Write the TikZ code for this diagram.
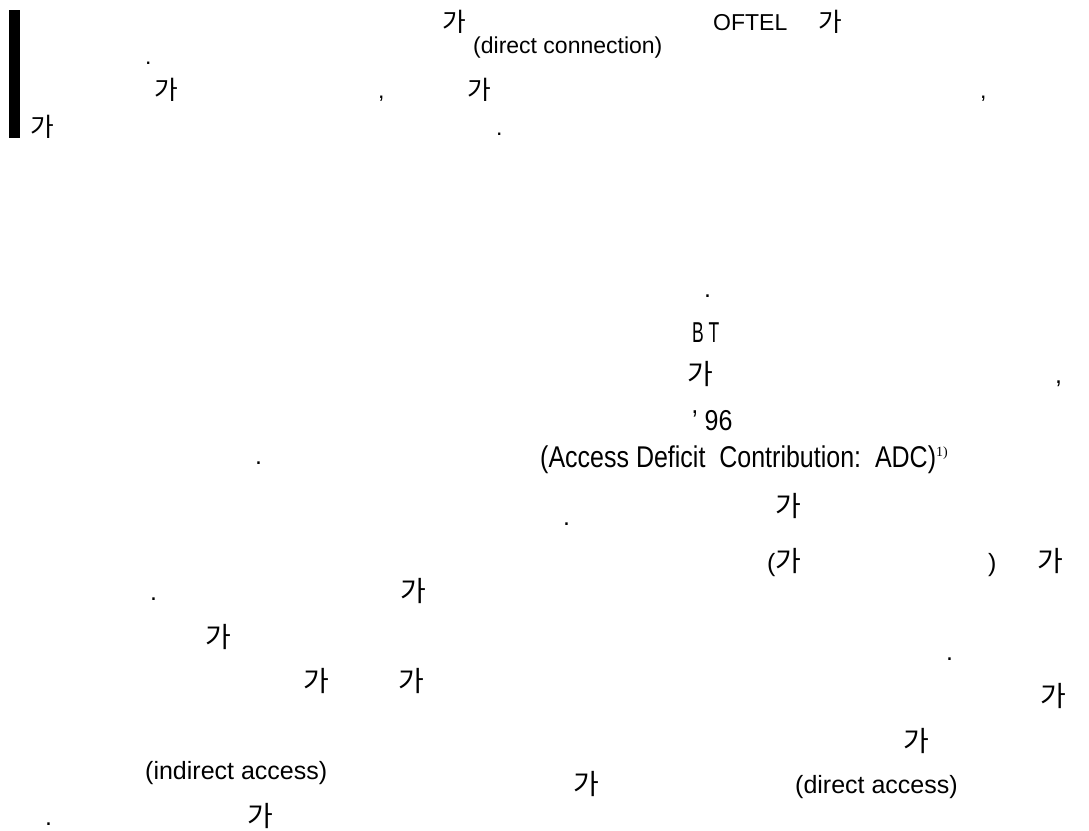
\documentclass[tikz,border=0pt]{standalone}
\usepackage{fontspec}
\setmainfont{Liberation Sans}
\newfontfamily\krfont[Scale=1.12]{Noto Sans CJK KR}
\newfontfamily\notefont{Liberation Serif}
\newcommand{\ga}{{\krfont 가}}

\begin{document}
\begin{tikzpicture}[x=1pt,y=-1pt]
    \useasboundingbox (0,0) rectangle (1089,830);

        % margin bar
        \fill (9,10) rectangle (20,138);

        % upper paragraph
        \begin{scope}[every node/.style={anchor=base west,inner sep=0pt,font=\fontsize{23}{28}\selectfont}]
            \node (ga1) at (442,31) {\ga};
            \node (oftel) at (713,30) {OFTEL};
            \node (ga2) at (818,31) {\ga};
            \node (dot1) at (145,64) {.};
            \node (dconn) at (473,53) {(direct connection)};
            \node (ga3) at (154,99) {\ga};
            \node (comma1) at (378,98) {,};
            \node (ga4) at (467,99) {\ga};
            \node (comma2) at (980,98) {,};
            \node (ga5) at (30,136) {\ga};
            \node (dot2) at (496,135) {.};
        \end{scope}

        % lower paragraph
        \begin{scope}[every node/.style={anchor=base west,inner sep=0pt,font=\fontsize{25}{30}\selectfont}]
            \node (dot3) at (704,297) {.};
            \node (bt) at (692,342) {\scalebox{0.7}[1.15]{B T}};
            \node (ga6) at (687,384) {\ga};
            \node (comma3) at (1055,383) {,};
            \node (year) at (692,430) {\scalebox{1}[1.15]{’ 96}};
            \node (dot4) at (255,464) {.};
            \node (adc) at (540,467) {\scalebox{1}[1.2]{(Access Deficit\ \ Contribution:\ \ ADC)}\raisebox{11pt}{\fontsize{14}{14}\notefont 1)}};
            \node (dot5) at (563,525) {.};
            \node (ga7) at (775,516) {\ga};
            \node (paren) at (767,571) {(\ga};
            \node (cparen) at (988,571) {)};
            \node (ga8) at (1037,571) {\ga};
            \node (dot6) at (150,600) {.};
            \node (ga9) at (400,601) {\ga};
            \node (ga10) at (205,647) {\ga};
            \node (ga11) at (303,691) {\ga};
            \node (ga12) at (398,691) {\ga};
            \node (dot7) at (946,660) {.};
            \node (ga13) at (1040,706) {\ga};
            \node (ga14) at (903,751) {\ga};
            \node (indir) at (145,779) {(indirect access)};
            \node (ga15) at (573,794) {\ga};
            \node (dir) at (795,793) {(direct access)};
            \node (dot8) at (45,825) {.};
            \node (ga16) at (247,826) {\ga};
        \end{scope}

\end{tikzpicture}
\end{document}
